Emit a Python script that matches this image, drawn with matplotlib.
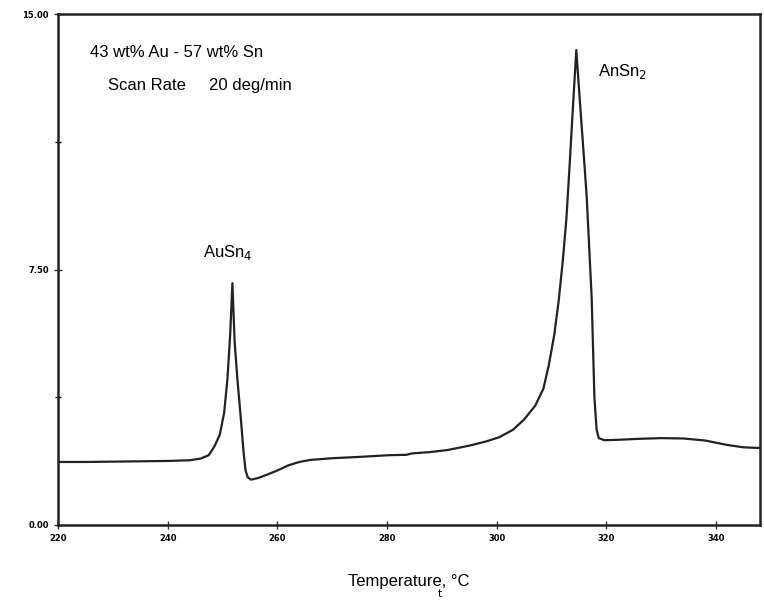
import numpy as np
import matplotlib.pyplot as plt
from matplotlib.ticker import MultipleLocator

# DSC trace
temp = [219.8, 225, 230, 235, 240, 244.0, 246.0, 247.5, 248.5, 249.5, 250.3,
        250.9, 251.4, 251.8, 252.2, 252.7, 253.3, 253.8, 254.2, 254.6,
        255.2, 256.5, 258.0, 260.0, 262.0, 264.0, 266.0, 270, 275, 280.5,
        283.5, 284.5, 287.8, 291, 295, 298, 300.5, 303, 305, 307, 308.5,
        309.5, 310.5, 311.3, 312.0, 312.7, 313.3, 313.9, 314.5, 315.1,
        315.8, 316.4, 317.3, 317.8, 318.2, 318.6, 319.6, 322, 326, 330,
        334, 338, 342, 345, 348]
signal = [1.85, 1.85, 1.86, 1.87, 1.88, 1.90, 1.95, 2.05, 2.3, 2.65, 3.3,
          4.3, 5.6, 7.1, 5.4, 4.3, 3.2, 2.2, 1.6, 1.4,
          1.33, 1.38, 1.47, 1.6, 1.75, 1.85, 1.91, 1.96, 2.0, 2.05,
          2.06, 2.10, 2.14, 2.2, 2.33, 2.45, 2.58, 2.8, 3.1, 3.5, 4.0,
          4.7, 5.6, 6.6, 7.69, 9.0, 10.6, 12.3, 13.94, 12.56,
          11.0, 9.63, 6.69, 3.76, 2.8, 2.55, 2.49, 2.50, 2.53, 2.55,
          2.54, 2.48, 2.35, 2.28, 2.26]

xticks = [220, 240, 260, 280, 300, 320, 340]
yticks = [0.0, 7.5, 15.0]

fig = plt.figure(figsize=(7.64, 6.04), dpi=100)
ax = fig.add_axes([0.0759, 0.1308, 0.9189, 0.846])

ax.plot(temp, signal, color='#222222', lw=1.6)

ax.set_xlim(220, 348)
ax.set_ylim(0, 15)
ax.set_xticks(xticks)
ax.set_xticklabels([str(t) for t in xticks], fontsize=6, fontweight='bold')
ax.set_yticks(yticks)
ax.set_yticklabels(['%.2f' % v for v in yticks], fontsize=6, fontweight='bold')
ax.yaxis.set_minor_locator(MultipleLocator(3.75))
ax.tick_params(direction='inout', length=6, width=1, color='#333333')
ax.tick_params(which='minor', direction='inout', length=4, width=1)
for s in ax.spines.values():
    s.set_linewidth(1.8)
    s.set_color('#222222')

ax.set_xlabel('Temperature, °C', fontsize=12, labelpad=22, family='Liberation Sans')

ax.text(0.045, 0.924, '43 wt% Au - 57 wt% Sn', transform=ax.transAxes,
        fontsize=12, family='Liberation Sans', va='center')
ax.text(0.071, 0.861, 'Scan Rate     20 deg/min', transform=ax.transAxes,
        fontsize=12, family='Liberation Sans', va='center')
ax.text(251, 8.0, 'AuSn$_4$', fontsize=12, family='Liberation Sans',
        ha='center', va='center')
ax.text(318.5, 13.3, 'AnSn$_2$', fontsize=12, family='Liberation Sans',
        va='center')
fig.text(0.576, 0.012, 't', fontsize=8, ha='center')

fig.savefig('out.png', dpi=100)
